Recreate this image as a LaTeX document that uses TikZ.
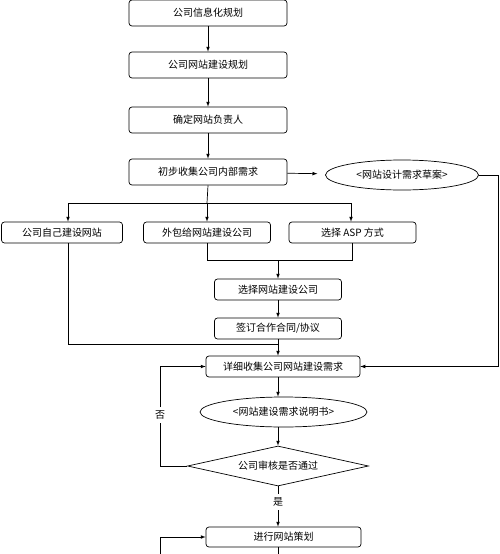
\documentclass[tikz,border=0pt]{standalone}
\usepackage{fontspec}
\setmainfont{Noto Sans CJK SC}
\usetikzlibrary{calc,arrows,shapes.geometric}

\tikzset{
  box/.style={draw,rounded corners=3pt,inner sep=0pt,minimum height=21pt},
  doc/.style={draw,ellipse,inner sep=0pt,minimum height=30pt},
  judge/.style={draw,diamond,aspect=5,inner sep=0pt,minimum width=181pt,minimum height=40pt},
  arr/.style={-latex},
}

\begin{document}
\begin{tikzpicture}[x=1pt,y=-1pt,line width=0.7pt,font=\fontsize{10}{12}\selectfont]
  \useasboundingbox (0,0) rectangle (500,554);
  % top column
  \node[box,minimum width=158pt,minimum height=26pt](plan)at(208,13){公司信息化规划};
  \node[box,minimum width=158pt,minimum height=26pt](site)at(208,65){公司网站建设规划};
  \node[box,minimum width=158pt,minimum height=26pt](owner)at(208,120){确定网站负责人};
  \node[box,minimum width=158pt,minimum height=26pt](collect)at(208,172){初步收集公司内部需求};
  \node[doc,minimum width=153pt](draft)at(402,175){<网站设计需求草案>};
  \draw[arr](plan)--(site);
  \draw[arr](site)--(owner);
  \draw[arr](owner)--(collect);
  \draw[arr,shorten >=8pt](collect)--(draft);
  % three ways
  \node[box,minimum width=121pt](self)at(62,232.5){公司自己建设网站};
  \node[box,minimum width=127pt](outsrc)at(207,232.5){外包给网站建设公司};
  \node[box,minimum width=127pt](asp)at(352.5,232.5){选择 ASP 方式};
  \coordinate(split)at(207,203);
  \coordinate(selfin)at(68,203);
  \coordinate(aspin)at(351,203);
  \draw(collect.south)--(split);
  \draw(selfin)--(aspin);
  \draw[arr](selfin)--(selfin |- self.north);
  \draw[arr](split)--(split |- outsrc.north);
  \draw[arr](aspin)--(aspin |- asp.north);
  % outsourcing
  \node[box,minimum width=127pt](choose)at(278,289.5){选择网站建设公司};
  \node[box,minimum width=127pt](sign)at(278,328.5){签订合作合同/协议};
  \coordinate(merge)at(278,260);
  \draw(outsrc.south)|-(asp.south |- merge)--(asp.south);
  \draw[arr](merge)--(choose);
  \draw[arr](choose)--(sign);
  % requirements
  \node[box,minimum width=154pt](detail)at(283,366.5){详细收集公司网站建设需求};
  \node[doc,minimum width=167pt](spec)at(283.5,412){<网站建设需求说明书>};
  \node[judge](check)at(278,466){公司审核是否通过};
  \coordinate(join)at(278,344);
  \draw(self.south -| selfin)|-(join);
  \draw(sign)--(join);
  \draw[arr](join)--(join |- detail.north);
  \draw[arr](detail.south -| join)--(join |- spec.north);
  \draw[arr](spec.south -| check)--(check);
  \coordinate(rightcol)at(498,175);
  \draw[arr](draft.east)--(rightcol)|-(detail.east);
  % review
  \node(no)at(160,415){否};
  \node(yes)at(278,502){是};
  \draw(check.west)-|(no);
  \draw[arr](no)|-(detail.west);
  \node[box,minimum width=155pt,minimum height=20pt](design)at(283.5,537){进行网站策划};
  \draw(check.south)--(yes);
  \draw[arr](yes)--(yes |- design.north);
  \coordinate(loopin)at(160,554);
  \coordinate(down)at(278,554);
  \draw[arr](loopin)|-(design.west);
  \draw(design.south -| down)--(down);
\end{tikzpicture}
\end{document}
